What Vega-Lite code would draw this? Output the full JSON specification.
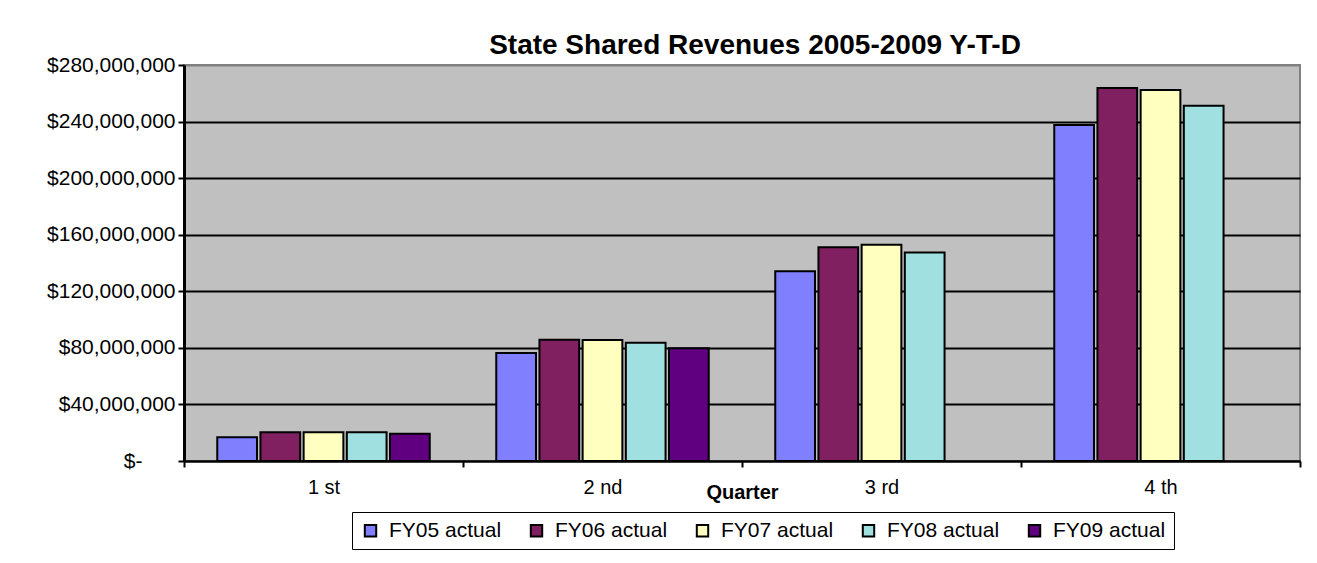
{
  "$schema": "https://vega.github.io/schema/vega-lite/v6.json",
  "autosize": {"type": "none"},
  "width": 1116,
  "height": 396,
  "padding": {"left": 184, "top": 65, "right": 17, "bottom": 102},
  "background": "white",
  "title": {
    "text": "State Shared Revenues 2005-2009 Y-T-D",
    "font": "Liberation Sans",
    "fontSize": 28,
    "fontWeight": "bold",
    "color": "black",
    "anchor": "middle",
    "offset": -6,
    "dx": 13
  },
  "data": {
    "values": [
      {"quarter": "1 st", "series": "FY05 actual", "value": 16800000},
      {"quarter": "1 st", "series": "FY06 actual", "value": 20400000},
      {"quarter": "1 st", "series": "FY07 actual", "value": 20400000},
      {"quarter": "1 st", "series": "FY08 actual", "value": 20400000},
      {"quarter": "1 st", "series": "FY09 actual", "value": 19200000},
      {"quarter": "2 nd", "series": "FY05 actual", "value": 76400000},
      {"quarter": "2 nd", "series": "FY06 actual", "value": 85700000},
      {"quarter": "2 nd", "series": "FY07 actual", "value": 85500000},
      {"quarter": "2 nd", "series": "FY08 actual", "value": 83600000},
      {"quarter": "2 nd", "series": "FY09 actual", "value": 79800000},
      {"quarter": "3 rd", "series": "FY05 actual", "value": 134100000},
      {"quarter": "3 rd", "series": "FY06 actual", "value": 151100000},
      {"quarter": "3 rd", "series": "FY07 actual", "value": 152900000},
      {"quarter": "3 rd", "series": "FY08 actual", "value": 147500000},
      {"quarter": "4 th", "series": "FY05 actual", "value": 237600000},
      {"quarter": "4 th", "series": "FY06 actual", "value": 263800000},
      {"quarter": "4 th", "series": "FY07 actual", "value": 262400000},
      {"quarter": "4 th", "series": "FY08 actual", "value": 251100000}
    ]
  },
  "mark": {"type": "bar", "stroke": "black", "strokeWidth": 2},
  "encoding": {
    "x": {
      "field": "quarter",
      "type": "nominal",
      "sort": ["1 st", "2 nd", "3 rd", "4 th"],
      "scale": {"paddingInner": 0, "paddingOuter": 0},
      "axis": {
        "title": "Quarter",
        "labelAngle": 0,
        "tickBand": "extent",
        "tickSize": 6,
        "tickWidth": 2,
        "tickColor": "black",
        "domainColor": "black",
        "domainWidth": 2,
        "labelFont": "Liberation Sans",
        "labelFontSize": 20,
        "labelColor": "black",
        "labelPadding": 10,
        "titleFont": "Liberation Sans",
        "titleFontSize": 20,
        "titleFontWeight": "bold",
        "titleColor": "black",
        "titlePadding": -15,
        "grid": false
      }
    },
    "xOffset": {
      "field": "series",
      "type": "nominal",
      "sort": ["FY05 actual", "FY06 actual", "FY07 actual", "FY08 actual", "FY09 actual"],
      "scale": {"paddingInner": 0.08, "paddingOuter": 0.77}
    },
    "y": {
      "field": "value",
      "type": "quantitative",
      "scale": {"domain": [0, 280000000], "nice": false},
      "axis": {
        "title": null,
        "values": [0, 40000000, 80000000, 120000000, 160000000, 200000000, 240000000, 280000000],
        "labelExpr": "datum.value == 0 ? '$-' : '$' + format(datum.value, ',')",
        "labelFont": "Liberation Sans",
        "labelFontSize": 21,
        "labelColor": "black",
        "labelPadding": {"condition": {"test": "datum.value == 0", "value": 36}, "value": 3},
        "tickSize": 6,
        "tickWidth": 2,
        "tickColor": "black",
        "domainColor": "black",
        "domainWidth": 3,
        "grid": true,
        "gridColor": {"condition": {"test": "datum.value >= 280000000", "value": "#808080"}, "value": "black"},
        "gridWidth": 2,
        "gridOpacity": 1
      }
    },
    "color": {
      "field": "series",
      "type": "nominal",
      "scale": {
        "domain": ["FY05 actual", "FY06 actual", "FY07 actual", "FY08 actual", "FY09 actual"],
        "range": ["#8080FF", "#802060", "#FFFFC0", "#A0E0E0", "#600080"]
      },
      "legend": {
        "title": null,
        "orient": "none",
        "legendX": 168,
        "legendY": 447,
        "direction": "horizontal",
        "columns": 5,
        "columnPadding": 24,
        "padding": 8,
        "strokeColor": "black",
        "fillColor": "white",
        "symbolType": "square",
        "symbolSize": 130,
        "symbolStrokeColor": "black",
        "symbolStrokeWidth": 2,
        "symbolOpacity": 1,
        "labelFont": "Liberation Sans",
        "labelFontSize": 21,
        "labelColor": "black",
        "labelOffset": 8,
        "labelLimit": 300
      }
    }
  },
  "config": {
    "view": {"fill": "#C0C0C0", "stroke": "#808080", "strokeWidth": 2}
  }
}
